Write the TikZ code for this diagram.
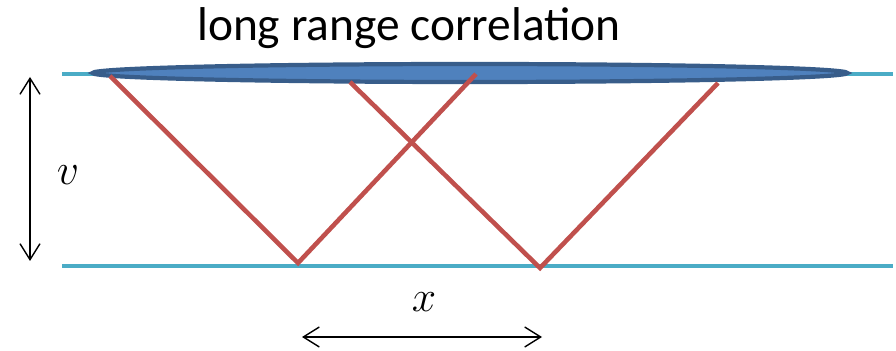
\documentclass[tikz,border=0pt]{standalone}
\usepackage{fontspec}
\setsansfont{Carlito}
\usetikzlibrary{arrows.meta, positioning, shapes.geometric}
\definecolor{layercyan}{RGB}{75, 172, 198}
\definecolor{pathred}{RGB}{192, 80, 77}
\definecolor{corrblue}{RGB}{79, 129, 189}
\definecolor{corredge}{RGB}{56, 93, 138}

\begin{document}
\begin{tikzpicture}[
  x=0.02cm, y=-0.02cm,
  layer/.style={draw=layercyan, line width=2.8pt},
  ray/.style={draw=pathred, line width=2.6pt, line join=miter},
  corr/.style={ellipse, draw=corredge, fill=corrblue, line width=2.4pt, minimum width=15.1cm, minimum height=0.36cm, inner sep=0pt},
  dim/.style={draw=black, line width=0.8pt, {Straight Barb[length=3.2mm, width=4mm]}-{Straight Barb[length=3.2mm, width=4mm]}},
  lbl/.style={font=\fontsize{30}{30}\selectfont, inner sep=0pt}
]
  \useasboundingbox (0,0) rectangle (896,351);
  \coordinate (tl) at (62,74);
  \coordinate (tr) at (893,74);
  \coordinate (bl) at (62,266);
  \coordinate (br) at (893,266);
  \draw[layer] (tl) -- (tr);
  \draw[layer] (bl) -- (br);
  \node[corr] (band) at (470,73) {};
  \node[font=\sffamily\fontsize{27}{27}\selectfont] (title) at (409,28) {long range correlation};
  \coordinate (a1) at (110,76);
  \coordinate (a2) at (298,263);
  \coordinate (a3) at (476,74);
  \coordinate (b1) at (350,82);
  \coordinate (b2) at (540,268);
  \coordinate (b3) at (718,83);
  \draw[ray] (a1) -- (a2) -- (a3);
  \draw[ray] (b1) -- (b2) -- (b3);
  \coordinate (vtop) at (30,77);
  \coordinate (vbot) at (30,261);
  \draw[dim] (vtop) -- (vbot);
  \node[lbl] (vlab) at (68,175) {$v$};
  \coordinate (xl) at (302,337);
  \coordinate (xr) at (542,337);
  \draw[dim] (xl) -- (xr);
  \node[lbl] (xlab) at (424,302) {$x$};
\end{tikzpicture}
\end{document}
